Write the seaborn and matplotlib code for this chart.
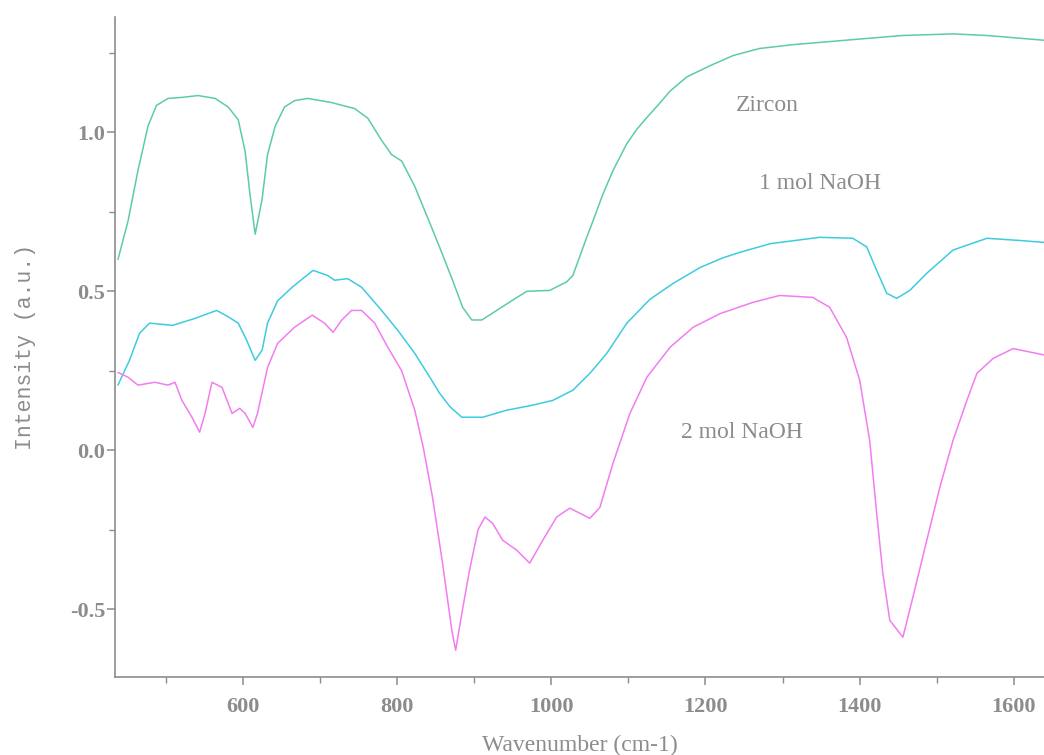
import matplotlib
matplotlib.use("Agg")
import matplotlib.pyplot as plt
import seaborn as sns
import pandas as pd
from matplotlib.ticker import MultipleLocator

# FTIR spectra: wavenumber (cm-1) and intensity (a.u.)
zircon_wn = [438, 451, 464, 477, 488, 503, 520, 542, 564, 581, 594, 603, 609, 616,
             625, 632, 642, 654, 667, 684, 715, 745, 762, 780, 793, 806, 823, 845,
             855, 872, 885, 897, 910, 942, 968, 998, 1020, 1028, 1037, 1046, 1057,
             1066, 1080, 1098, 1111, 1124, 1140, 1154, 1176, 1206, 1236, 1270, 1313,
             1391, 1456, 1521, 1565, 1639]
zircon_int = [0.60, 0.72, 0.88, 1.02, 1.085, 1.107, 1.11, 1.116, 1.107, 1.08, 1.04, 0.94,
              0.81, 0.68, 0.79, 0.93, 1.02, 1.08, 1.10, 1.107, 1.094, 1.075, 1.045, 0.975,
              0.93, 0.91, 0.83, 0.70, 0.64, 0.535, 0.45, 0.41, 0.41, 0.46, 0.50, 0.503,
              0.53, 0.55, 0.61, 0.67, 0.74, 0.80, 0.88, 0.965, 1.01, 1.047, 1.09, 1.13,
              1.175, 1.21, 1.242, 1.264, 1.276, 1.292, 1.305, 1.31, 1.305, 1.29]

naoh1_wn = [438, 453, 466, 479, 509, 538, 566, 581, 594, 605, 616, 625, 632, 645, 664,
            691, 710, 719, 736, 754, 780, 801, 823, 845, 855, 869, 884, 911, 942, 976,
            1002, 1028, 1050, 1072, 1098, 1128, 1158, 1193, 1222, 1245, 1284, 1348,
            1391, 1409, 1422, 1435, 1448, 1465, 1487, 1521, 1565, 1608, 1639]
naoh1_int = [0.205, 0.283, 0.368, 0.40, 0.393, 0.415, 0.44, 0.42, 0.40, 0.346, 0.283,
             0.315, 0.40, 0.47, 0.513, 0.566, 0.55, 0.535, 0.54, 0.513, 0.44, 0.377,
             0.305, 0.22, 0.18, 0.136, 0.104, 0.104, 0.126, 0.142, 0.157, 0.189, 0.242,
             0.305, 0.40, 0.475, 0.525, 0.575, 0.605, 0.623, 0.65, 0.67, 0.667, 0.64,
             0.566, 0.494, 0.478, 0.503, 0.557, 0.63, 0.667, 0.66, 0.654]

naoh2_wn = [438, 451, 464, 486, 503, 512, 521, 534, 544, 551, 560, 573, 586, 596, 603,
            613, 619, 632, 645, 667, 690, 706, 717, 728, 741, 754, 771, 788, 806, 823,
            834, 846, 859, 871, 876, 884, 894, 905, 914, 924, 937, 955, 972, 989, 1007,
            1024, 1050, 1063, 1080, 1102, 1124, 1154, 1184, 1219, 1261, 1296, 1339,
            1361, 1383, 1400, 1413, 1422, 1430, 1439, 1456, 1469, 1487, 1504, 1521,
            1539, 1552, 1573, 1599, 1639]
naoh2_int = [0.245, 0.23, 0.205, 0.214, 0.205, 0.214, 0.157, 0.104, 0.057, 0.116, 0.214,
             0.198, 0.116, 0.132, 0.116, 0.072, 0.116, 0.26, 0.336, 0.387, 0.425, 0.40,
             0.371, 0.409, 0.44, 0.44, 0.40, 0.324, 0.25, 0.126, 0.009, -0.148, -0.355,
             -0.566, -0.629, -0.513, -0.377, -0.25, -0.21, -0.23, -0.283, -0.314, -0.355,
             -0.283, -0.21, -0.182, -0.214, -0.18, -0.041, 0.116, 0.23, 0.324, 0.387,
             0.43, 0.465, 0.487, 0.481, 0.45, 0.355, 0.22, 0.03, -0.198, -0.387, -0.535,
             -0.588, -0.462, -0.283, -0.116, 0.031, 0.157, 0.242, 0.289, 0.32, 0.30]

series_names = ["Zircon", "1 mol NaOH", "2 mol NaOH"]
series_colors = ["#5ccd9f", "#3ecbe0", "#f27cf0"]

frames = []
for name, wn, val in zip(series_names,
                         [zircon_wn, naoh1_wn, naoh2_wn],
                         [zircon_int, naoh1_int, naoh2_int]):
    frames.append(pd.DataFrame({"wavenumber": wn, "intensity": val, "sample": name}))
data = pd.concat(frames, ignore_index=True)

sns.set_style("ticks")
plt.rcParams["axes.unicode_minus"] = False
plt.rcParams["font.family"] = ["Liberation Serif", "DejaVu Serif"]

grey = "#8c8c8c"
fig = plt.figure(figsize=(10.44, 7.55), dpi=100)
ax = fig.add_axes([0.110, 0.103, 0.890, 0.874])

sns.lineplot(data=data, x="wavenumber", y="intensity", hue="sample",
             hue_order=series_names, palette=series_colors, sort=False,
             estimator=None, linewidth=1.1, legend=False, ax=ax)

ax.set_xlim(434, 1639)
ax.set_ylim(-0.714, 1.362)
ax.xaxis.set_major_locator(MultipleLocator(200))
ax.xaxis.set_minor_locator(MultipleLocator(100))
ax.yaxis.set_major_locator(MultipleLocator(0.5))
ax.yaxis.set_minor_locator(MultipleLocator(0.25))

for side in ("top", "right"):
    ax.spines[side].set_visible(False)
for side in ("left", "bottom"):
    ax.spines[side].set_color(grey)
    ax.spines[side].set_linewidth(1.2)

ax.tick_params(axis="both", which="major", direction="out", length=6, width=1.1,
               color=grey, labelcolor=grey, labelsize=16)
ax.tick_params(axis="both", which="minor", direction="out", length=4.5, width=1.0,
               color=grey)
ax.tick_params(axis="x", which="major", pad=8)
ax.tick_params(axis="y", which="major", pad=1)
for lab in ax.get_xticklabels() + ax.get_yticklabels():
    lab.set_fontweight("bold")

ax.set_xlabel("Wavenumber (cm-1)", fontsize=17, color=grey, labelpad=13)
ax.set_ylabel("Intensity (a.u.)", fontsize=15.5, color=grey, labelpad=24,
              family=["Liberation Mono", "DejaVu Sans Mono"])

label_pos = {"Zircon": (1280, 1.085), "1 mol NaOH": (1348, 0.84), "2 mol NaOH": (1247, 0.057)}
for name in series_names:
    xpos, ypos = label_pos[name]
    ax.text(xpos, ypos, name, fontsize=17, color=grey, ha="center", va="center")

fig.savefig("out.png", dpi=100)
